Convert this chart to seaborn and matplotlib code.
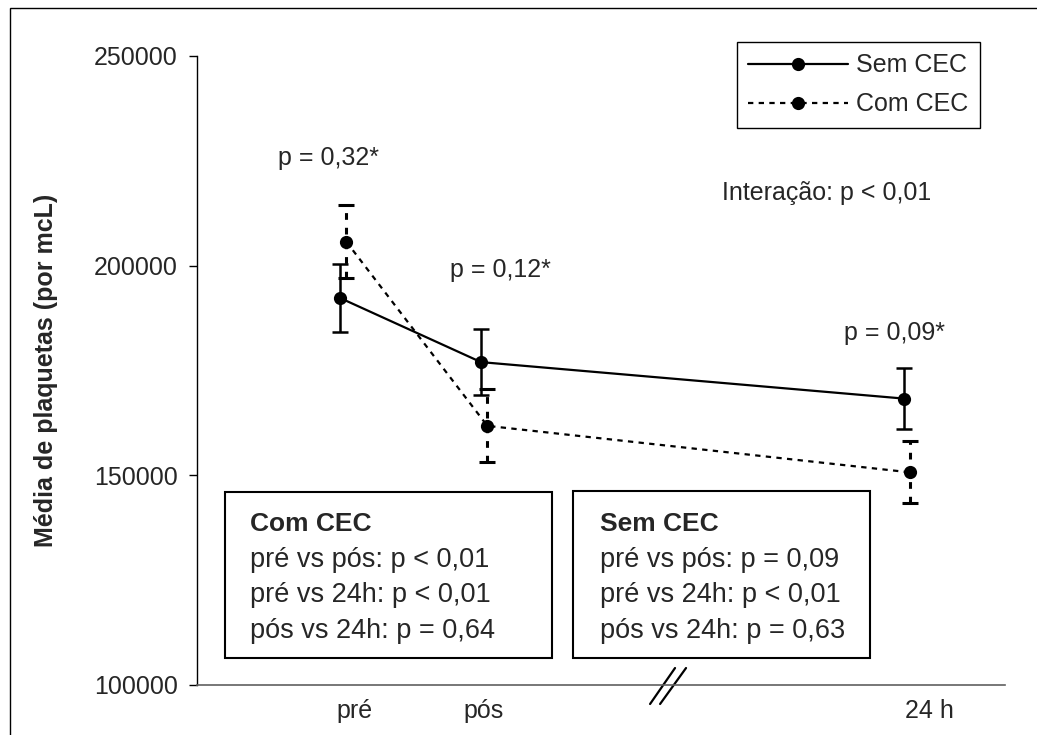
import numpy as np
import pandas as pd
import seaborn as sns
import matplotlib.pyplot as plt
from matplotlib.patches import Rectangle

# data
tempo_x = [0.0, 1.0, 4.0]
tempo_labels = ['pré', 'pós', '24 h']
tick_pos = [0.1, 1.02, 4.18]

sem_media = [192300, 177000, 168300]
sem_erro = [8200, 7900, 7200]
com_media = [205700, 161800, 150700]
com_erro = [8700, 8700, 7400]
com_offset = 0.045

grupos = ['Sem CEC', 'Com CEC']

df = pd.DataFrame({
    'x': tempo_x + [t + com_offset for t in tempo_x],
    'media': sem_media + com_media,
    'grupo': [grupos[0]] * 3 + [grupos[1]] * 3,
})

sns.set_style('white')
plt.rcParams['font.family'] = ['Liberation Sans', 'DejaVu Sans']
FS = 18

fig = plt.figure(figsize=(10.37, 7.35), dpi=100)
ax = fig.add_axes([197 / 1037, 50 / 735, 808 / 1037, 629 / 735])

dash = (2.4, 2.4)
sns.lineplot(data=df, x='x', y='media', hue='grupo', style='grupo',
             palette={'Sem CEC': 'black', 'Com CEC': 'black'},
             dashes={'Sem CEC': '', 'Com CEC': dash},
             markers={'Sem CEC': 'o', 'Com CEC': 'o'},
             markersize=9.5, markeredgewidth=0, linewidth=1.6,
             ax=ax, legend=True)

# error bars
eb1 = ax.errorbar(tempo_x, sem_media, yerr=sem_erro, fmt='none', ecolor='black',
                  elinewidth=1.8, capsize=6, capthick=1.8)
eb2 = ax.errorbar([t + com_offset for t in tempo_x], com_media, yerr=com_erro,
                  fmt='none', ecolor='black', elinewidth=2.2, capsize=6, capthick=2.2)
eb2[2][0].set_linestyle((0, (2.2, 2.6)))

ax.set_xlim(-1.014, 4.716)
ax.set_ylim(100000, 250000)
ax.set_yticks([100000, 150000, 200000, 250000])
ax.set_yticklabels(['100000', '150000', '200000', '250000'], fontsize=FS)
ax.set_xticks(tick_pos)
ax.set_xticklabels(tempo_labels, fontsize=FS)
ax.tick_params(axis='y', length=6, width=1, pad=8, left=True, color='black')
ax.tick_params(axis='x', length=0, pad=10)
ax.set_xlabel('')
ax.set_ylabel('Média de plaquetas (por mcL)', fontsize=FS, fontweight='bold')
ax.yaxis.set_label_coords(-0.172, 0.5)

for s in ['top', 'right']:
    ax.spines[s].set_visible(False)
ax.spines['left'].set_color('black')
ax.spines['left'].set_linewidth(1)
ax.spines['bottom'].set_color('#606060')
ax.spines['bottom'].set_linewidth(1.2)

# axis break mark
ax.plot([2.199, 2.376], [95470, 104050], color='black', lw=1.6, clip_on=False)
ax.plot([2.27, 2.454], [95470, 104050], color='black', lw=1.6, clip_on=False)

# annotations
ax.text(-0.085, 225700, 'p = 0,32*', fontsize=FS, ha='center', va='center')
ax.text(1.14, 198960, 'p = 0,12*', fontsize=FS, ha='center', va='center')
ax.text(3.93, 183940, 'p = 0,09*', fontsize=FS, ha='center', va='center')
ax.text(3.45, 217300, 'Interação: p < 0,01', fontsize=FS, ha='center', va='center')

# legend
handles, labels = ax.get_legend_handles_labels()
for h in handles:
    h.set_markersize(9.5)
    h.set_color('black')
leg = ax.legend(handles, labels, loc='upper right',
                bbox_to_anchor=(980 / 1037, 1 - 42 / 735),
                bbox_transform=fig.transFigure, borderaxespad=0,
                fontsize=FS, handlelength=4.0, handletextpad=0.35,
                labelspacing=0.6, borderpad=0.45, fancybox=False,
                frameon=True, framealpha=1, edgecolor='black')
leg.get_frame().set_linewidth(1)

# p-value boxes (pixel coords)
def px(x, y):
    return x / 1037, 1 - y / 735

boxes = [
    (225, 492, 552, 658, 250, 'Com CEC',
     ['pré vs pós: p < 0,01', 'pré vs 24h: p < 0,01', 'pós vs 24h: p = 0,64']),
    (573, 491, 870, 658, 600, 'Sem CEC',
     ['pré vs pós: p = 0,09', 'pré vs 24h: p < 0,01', 'pós vs 24h: p = 0,63']),
]
for x0, y0, x1, y1, tx, titulo, linhas in boxes:
    fx0, fy1 = px(x0, y1)
    fx1, fy0 = px(x1, y0)
    fig.add_artist(Rectangle((fx0, fy1), fx1 - fx0, fy0 - fy1, transform=fig.transFigure,
                             fill=True, facecolor='white', edgecolor='black', lw=1.5, zorder=5))
    fig.text(*px(tx, 524), titulo, fontsize=FS + 1, fontweight='bold', va='center', zorder=6)
    for i, l in enumerate(linhas):
        fig.text(*px(tx, 560 + 35.5 * i), l, fontsize=FS + 1.5, va='center', zorder=6)

# outer frame
fig.add_artist(Rectangle((10 / 1037, -0.1), 1.2, 1.1 - 8 / 735, transform=fig.transFigure,
                         fill=False, edgecolor='black', lw=1))

fig.savefig('out.png', dpi=100)
